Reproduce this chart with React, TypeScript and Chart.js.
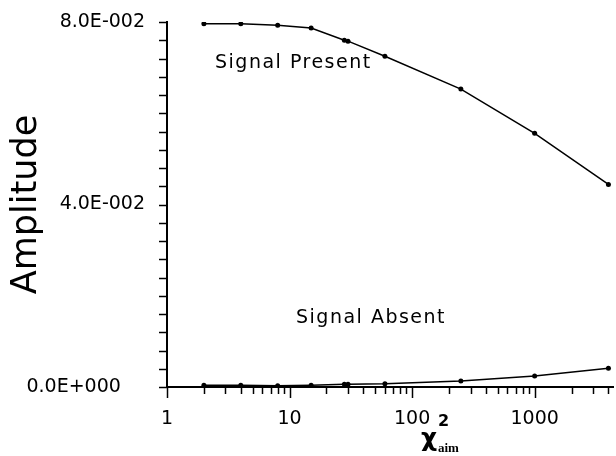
import React, { useEffect, useRef } from 'react';
import { Chart, registerables } from 'chart.js';

Chart.register(...registerables);

// ---- data ----
const chiSquaredAim = [2, 4, 8, 15, 28, 30, 60, 250, 1000, 4000];
const signalPresent = [0.0796, 0.0796, 0.0793, 0.0787, 0.076, 0.0758, 0.0725, 0.0653, 0.0556, 0.0444];
const signalAbsent = [0.0004, 0.0004, 0.0003, 0.0004, 0.0006, 0.0006, 0.0007, 0.0013, 0.0024, 0.0041];
const yLabelValues = [0, 0.04, 0.08];
const yTickLabels = ['0.0E+000    ', '4.0E-002', '8.0E-002'];
const xLabelValues = [1, 10, 100, 1000];
const xTickLabels = ['1', '10', '100', '1000'];

const FONT = '"DejaVu Sans", sans-serif';

const ticksPlugin = {
  id: 'customTicks',
  afterDraw(chart: any) {
    const ctx = chart.ctx;
    const xs = chart.scales.x;
    const ys = chart.scales.y;
    ctx.save();
    ctx.strokeStyle = '#000';
    ctx.lineWidth = 1.5;
    ys.ticks.forEach((t: any) => {
      const py = Math.round(ys.getPixelForValue(t.value)) + 0.5;
      ctx.beginPath();
      ctx.moveTo(ys.right - 8, py);
      ctx.lineTo(ys.right, py);
      ctx.stroke();
    });
    xs.ticks.forEach((t: any) => {
      const v = t.value;
      if (v <= 0) return;
      const exp = Math.floor(Math.log10(v) + 1e-9);
      const sig = v / Math.pow(10, exp);
      if (Math.abs(sig - Math.round(sig)) > 1e-6) return;
      const major = Math.abs(sig - 1) < 1e-6;
      const px = Math.round(xs.getPixelForValue(v)) + 0.5;
      ctx.beginPath();
      ctx.moveTo(px, xs.top);
      ctx.lineTo(px, xs.top + (major ? 11 : 7));
      ctx.stroke();
    });
    ctx.restore();
  },
};

const textPlugin = {
  id: 'annotText',
  afterDraw(chart: any) {
    const ctx = chart.ctx;
    ctx.save();
    ctx.fillStyle = '#000';
    ctx.textBaseline = 'middle';
    ctx.textAlign = 'left';
    ctx.font = `19px ${FONT}`;
    try { (ctx as any).letterSpacing = '1.5px'; } catch (e) {}
    ctx.fillText('Signal Present', 215, 63);
    ctx.fillText('Signal Absent', 296, 318);
    try { (ctx as any).letterSpacing = '0px'; } catch (e) {}
    // x axis title: chi^2 with subscript "aim"
    ctx.textBaseline = 'alphabetic';
    ctx.font = `bold 25px ${FONT}`;
    ctx.fillText('χ', 421, 446);
    ctx.font = `bold 16px ${FONT}`;
    ctx.fillText('2', 438, 426);
    ctx.font = `bold 13px "Liberation Serif", serif`;
    ctx.fillText('aim', 438, 452);
    ctx.restore();
  },
};

export default function App() {
  const canvasRef = useRef<HTMLCanvasElement | null>(null);

  useEffect(() => {
    document.body.style.margin = '0';
    const canvas = canvasRef.current;
    if (!canvas) return;
    const lineStyle = {
      borderColor: '#000',
      backgroundColor: '#000',
      borderWidth: 1.5,
      pointRadius: 2.5,
      pointHoverRadius: 2.5,
      pointBackgroundColor: '#000',
      pointBorderColor: '#000',
      pointBorderWidth: 0,
      tension: 0,
      fill: false,
    };
    const chart = new Chart(canvas, {
      type: 'line',
      data: {
        datasets: [
          {
            label: 'Signal Present',
            data: chiSquaredAim.map((x, i) => ({ x, y: signalPresent[i] })),
            ...lineStyle,
          },
          {
            label: 'Signal Absent',
            data: chiSquaredAim.map((x, i) => ({ x, y: signalAbsent[i] })),
            ...lineStyle,
          },
        ],
      },
      options: {
        animation: false,
        responsive: false,
        devicePixelRatio: 1,
        layout: { padding: { top: 22, right: 0, left: 0, bottom: 0 } },
        plugins: {
          legend: { display: false },
          tooltip: { enabled: false },
          title: { display: false },
        },
        scales: {
          x: {
            type: 'logarithmic',
            min: 1,
            max: 4400,
            grid: {
              display: true,
              drawOnChartArea: false,
              drawTicks: true,
              tickLength: 21,
              tickColor: 'rgba(0,0,0,0)',
            },
            border: { display: true, color: '#000', width: 2 },
            ticks: {
              autoSkip: false,
              maxRotation: 0,
              minRotation: 0,
              padding: 0,
              color: '#000',
              font: { family: FONT, size: 19 },
              callback: (value: any) => {
                const v = Number(value);
                const i = xLabelValues.findIndex((lv) => Math.abs(lv - v) < 1e-9);
                return i >= 0 ? xTickLabels[i] : '';
              },
            },
            afterFit: (scale: any) => {
              scale.height = 69;
            },
          },
          y: {
            type: 'linear',
            min: 0,
            max: 0.08,
            grid: {
              display: true,
              drawOnChartArea: false,
              drawTicks: true,
              tickLength: 22,
              tickColor: 'rgba(0,0,0,0)',
            },
            border: { display: true, color: '#000', width: 2 },
            ticks: {
              stepSize: 0.004,
              autoSkip: false,
              padding: 0,
              color: '#000',
              font: { family: FONT, size: 19 },
              callback: (value: any) => {
                const v = Number(value);
                const i = yLabelValues.findIndex((lv) => Math.abs(lv - v) < 1e-9);
                return i >= 0 ? yTickLabels[i] : '';
              },
            },
            title: {
              display: true,
              text: 'Amplitude',
              color: '#000',
              font: { family: FONT, size: 35, weight: 'normal' },
              padding: { top: 6, bottom: 0 },
            },
            afterFit: (scale: any) => {
              scale.width = 167;
            },
          },
        },
      },
      plugins: [ticksPlugin, textPlugin],
    } as any);
    return () => {
      chart.destroy();
    };
  }, []);

  return (
    <div style={{ width: 616, height: 456 }}>
      <canvas ref={canvasRef} width={616} height={456} style={{ display: 'block' }} />
    </div>
  );
}
